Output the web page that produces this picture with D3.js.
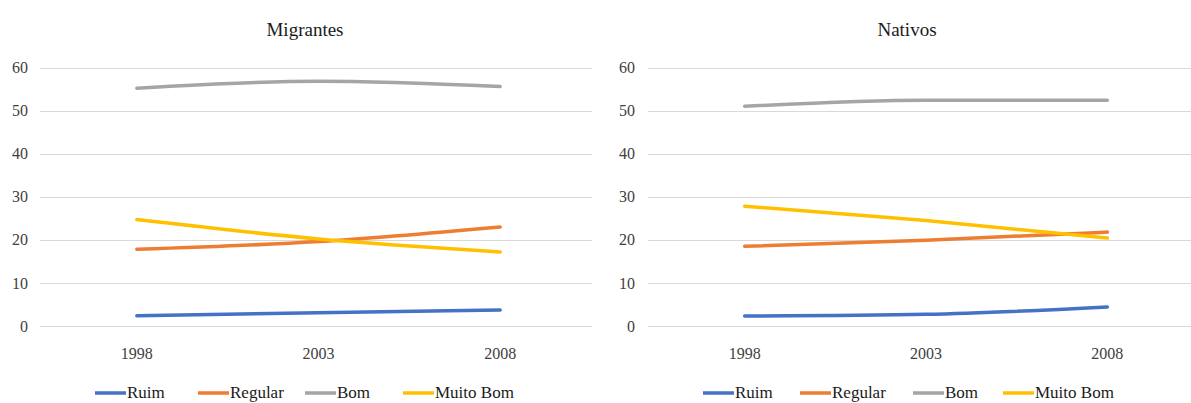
<!DOCTYPE html>
<html><head><meta charset="utf-8">
<script src="https://cdn.jsdelivr.net/npm/d3@7"></script>
<style>body{margin:0;background:#fff;} svg{display:block;} svg text{font-family:"Liberation Serif","DejaVu Serif",serif;}</style>
</head><body>
<svg id="c" width="1191" height="403"></svg>
<script>
const years = ["1998", "2003", "2008"];
const seriesNames = ["Ruim", "Regular", "Bom", "Muito Bom"];
const colors = ["#4472C4", "#ED7D31", "#A5A5A5", "#FFC000"];
const yTicks = [0, 10, 20, 30, 40, 50, 60];
const migrantesRuim = [2.4, 3.1, 3.7];
const migrantesRegular = [17.8, 19.6, 23.0];
const migrantesBom = [55.2, 56.8, 55.6];
const migrantesMuitoBom = [24.7, 20.2, 17.2];
const nativosRuim = [2.3, 2.7, 4.4];
const nativosRegular = [18.5, 19.9, 21.8];
const nativosBom = [51.0, 52.4, 52.4];
const nativosMuitoBom = [27.8, 24.5, 20.4];

const svg = d3.select("#c");

function panel(title, titleX, x0, x1, gridX0, gridX1, labelX, legendXs, data) {
  const y = d3.scaleLinear().domain([0, 60]).range([326, 67.5]);
  const x = d3.scaleBand().domain(years).range([x0, x1]);
  const g = svg.append("g");
  g.append("text").attr("x", titleX).attr("y", 36).attr("text-anchor", "middle")
    .attr("font-size", 19).attr("fill", "#1a1a1a").text(title);
  g.selectAll("line.grid").data(yTicks).join("line")
    .attr("x1", gridX0).attr("x2", gridX1)
    .attr("y1", d => Math.round(y(d)) + 0.5).attr("y2", d => Math.round(y(d)) + 0.5)
    .attr("stroke", "#D9D9D9").attr("stroke-width", 1);
  g.selectAll("text.yt").data(yTicks).join("text")
    .attr("x", labelX).attr("y", d => y(d)).attr("dy", "0.35em").attr("text-anchor", "end")
    .attr("font-size", 16).attr("fill", "#404040").text(d => d);
  g.selectAll("text.xt").data(years).join("text")
    .attr("x", d => x(d) + x.bandwidth() / 2).attr("y", 359).attr("text-anchor", "middle")
    .attr("font-size", 16).attr("fill", "#404040").text(d => d);
  const line = d3.line().x((d, i) => x(years[i]) + x.bandwidth() / 2).y(d => y(d)).curve(d3.curveMonotoneX);
  data.forEach((s, k) => {
    g.append("path").attr("d", line(s)).attr("fill", "none").attr("stroke", colors[k])
      .attr("stroke-width", 3.5).attr("stroke-linecap", "round").attr("stroke-linejoin", "round");
  });
  seriesNames.forEach((n, k) => {
    const lx = legendXs[k];
    g.append("line").attr("x1", lx).attr("x2", lx + 31).attr("y1", 393).attr("y2", 393)
      .attr("stroke", colors[k]).attr("stroke-width", 3.5);
    g.append("text").attr("x", lx + 32).attr("y", 398)
      .attr("font-size", 17).attr("fill", "#1a1a1a").text(n);
  });
}

panel("Migrantes", 305, 46, 591, 40, 592, 28, [95, 198, 305, 403],
  [migrantesRuim, migrantesRegular, migrantesBom, migrantesMuitoBom]);
panel("Nativos", 907, 654, 1198, 648, 1191, 635, [703, 800, 913, 1003],
  [nativosRuim, nativosRegular, nativosBom, nativosMuitoBom]);
</script>
</body></html>
